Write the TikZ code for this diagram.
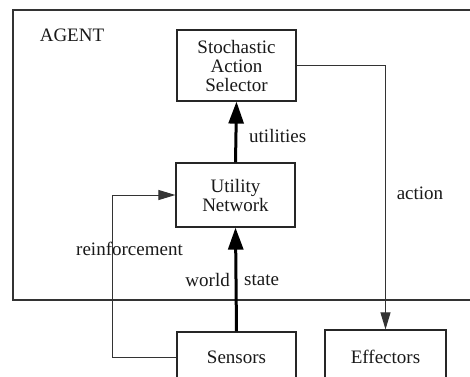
\documentclass[tikz,border=0pt]{standalone}
\usepackage{fontspec}
\setmainfont{Liberation Serif}
\usetikzlibrary{arrows.meta}
\begin{document}
\begin{tikzpicture}[x=1pt,y=-1pt,
  box/.style={draw=black!85,line width=1.2pt,align=center,inner sep=0pt,
    font=\fontsize{19}{19}\selectfont,text=black!90},
  lbl/.style={font=\fontsize{19}{19}\selectfont,text=black!90,inner sep=0pt},
  bigarrow/.style={line width=3pt,draw=black,-{Triangle[length=22pt,width=15pt]}},
  thinarrow/.style={line width=1pt,draw=black!80,-{Triangle[length=17pt,width=10pt]}}]
\useasboundingbox (0,0) rectangle (470,376);
\clip (0,0) rectangle (470,376);
\fill[white] (0,0) rectangle (470,376);
% agent frame
\draw[line width=1.2pt,draw=black!80] (13,10) rectangle (480,300);
\node[lbl] (agent) at (72,35) {AGENT};
% boxes
\node[box,minimum width=119pt,minimum height=71pt] (sel) at (236.5,65.5) {Stochastic\\Action\\Selector};
\node[box,minimum width=119pt,minimum height=64pt] (util) at (235.5,195) {Utility\\Network};
\node[box,minimum width=119pt,minimum height=50pt] (sens) at (236.5,357) {Sensors};
\node[box,minimum width=121pt,minimum height=54pt] (eff) at (385.5,357) {Effectors};
% thick arrows
\draw[bigarrow] (util.north) -- (sel.south);
\node[lbl,anchor=west] (utl) at (249,136) {utilities};
\draw[bigarrow] (sens.north) -- (util.south);
\node[lbl,anchor=east] (world) at (230,280) {world};
\node[lbl,anchor=west] (state) at (244,280) {state};
% reinforcement
\coordinate (rc) at (112,357);
\draw[thinarrow] (sens.west) -- (rc) |- (util.west);
\node[lbl] (reinf) at (129.5,249) {reinforcement};
% action
\draw[thinarrow] (sel.east) -| (eff.north);
\node[lbl] (act) at (420,193) {action};
\end{tikzpicture}
\end{document}
